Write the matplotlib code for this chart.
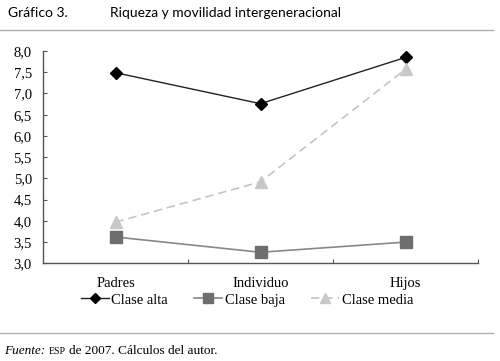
import matplotlib
matplotlib.use("Agg")
import matplotlib.pyplot as plt

categorias = ["Padres", "Individuo", "Hijos"]
clase_alta = [7.49, 6.76, 7.85]
clase_baja = [3.62, 3.26, 3.50]
clase_media = [3.97, 4.92, 7.57]
yticks = [3.0, 3.5, 4.0, 4.5, 5.0, 5.5, 6.0, 6.5, 7.0, 7.5, 8.0]

serif = "Liberation Serif"
sans = "Lato"

fig = plt.figure(figsize=(5.0, 3.61), dpi=100)
ax = fig.add_axes([0.086, 0.2706, 0.87, 0.588])

x = range(len(categorias))
ax.plot(x, clase_alta, color="#222222", lw=1.0, marker="D", ms=6,
        mfc="black", mec="black", label="Clase alta")
ax.plot(x, clase_baja, color="#888888", lw=1.2, marker="s", ms=8,
        mfc="#6e6e6e", mec="#6e6e6e", label="Clase baja")
ax.plot(x, clase_media, color="#c4c4c4", lw=1.2, ls=(0, (5, 3)), marker="^", ms=9,
        mfc="#c8c8c8", mec="#c8c8c8", label="Clase media")

ax.set_xlim(-0.5, 2.5)
ax.set_ylim(3.0, 8.0)
ax.set_yticks(yticks)
ax.set_yticklabels([f"{v:.1f}".replace(".", ",") for v in yticks],
                   fontfamily=serif, fontsize=10.5)
ax.set_xticks([0.5, 1.5, 2.5])
ax.set_xticklabels([])
ax.set_xticks(list(x), minor=True)
ax.set_xticklabels(categorias, minor=True, fontfamily=serif, fontsize=10.5)
ax.tick_params(axis="x", which="minor", length=0, pad=10)
ax.tick_params(axis="x", which="major", direction="in", length=3, color="#555555")
ax.tick_params(axis="y", direction="in", length=3, color="#555555", pad=8)
for s in ["top", "right"]:
    ax.spines[s].set_visible(False)
for s in ["left", "bottom"]:
    ax.spines[s].set_color("#555555")
    ax.spines[s].set_linewidth(1.0)

fig.legend(loc="center", bbox_to_anchor=(0.494, 0.169), ncol=3, frameon=False,
           prop={"family": serif, "size": 10.5}, handlelength=1.9,
           handletextpad=0.2, columnspacing=1.8, markerscale=0.85)

# encabezado
fig.text(0.016, 0.965, "Gráfico 3.", fontfamily=sans, fontsize=10, va="center")
fig.text(0.22, 0.965, "Riqueza y movilidad intergeneracional", fontfamily=sans,
         fontsize=10, va="center")
fig.add_artist(plt.Line2D([0, 0.986], [0.918, 0.918], color="#b0b0b0", lw=1.0))
fig.add_artist(plt.Line2D([0, 0.986], [0.078, 0.078], color="#b0b0b0", lw=1.0))

# pie
fig.canvas.draw()
r = fig.canvas.get_renderer()
yb = 1 - 351 / 361
t1 = fig.text(0.008, yb, "Fuente:", fontfamily=serif, fontstyle="italic", fontsize=9.5, va="center")
bb = t1.get_window_extent(r)
x2 = bb.x1 / fig.bbox.width + 0.008
t2 = fig.text(x2, yb, "ESP", fontfamily=serif, fontsize=7, va="center")
bb = t2.get_window_extent(r)
x3 = bb.x1 / fig.bbox.width + 0.006
fig.text(x3, yb, "de 2007. Cálculos del autor.", fontfamily=serif, fontsize=9.5, va="center")

fig.savefig("out.png", dpi=100)
